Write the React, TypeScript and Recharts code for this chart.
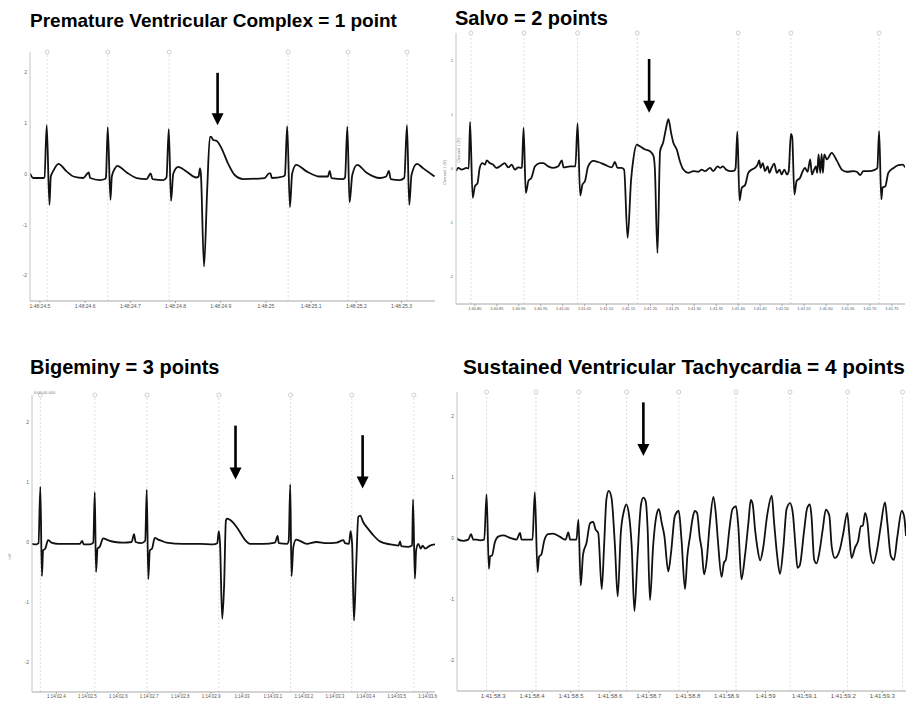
import { LineChart, Line, XAxis, YAxis, ReferenceLine, ReferenceDot } from "recharts";

// voltage ticks shared by all four strips (mV)
const Y_TICKS = [-2, -1, 0, 1, 2];

// --- Premature ventricular complex: ms after 1:48:24.5, mV ---
const pvcTrace: [number, number][] = [
  [-22, 0.01], [-15, -0.08], [7, -0.08], [10, -0.07], [15, 0.96], [21, -0.61], [24, -0.05], [29, 0.05],
  [41, 0.2], [59, 0.05], [74, -0.05], [96, -0.08], [105, 0.01], [108, 0.03], [111, -0.08], [133, -0.12],
  [144, -0.1], [146, -0.07], [150, 0.92], [156, -0.51], [159, -0.05], [166, 0.11], [171, 0.16], [192, 0.03],
  [214, -0.08], [236, -0.1], [245, 0.01], [249, -0.1], [273, -0.12], [280, -0.07], [285, 0.88], [290, -0.53],
  [295, 0.01], [306, 0.14], [324, 0.05], [346, -0.07], [351, -0.05], [354, 0.11], [356, 0.01], [363, -1.82],
  [370, -0.31], [376, 0.73], [379, 0.73], [383, 0.67], [391, 0.65], [402, 0.5], [416, 0.21], [431, -0.02],
  [450, -0.1], [497, -0.08], [507, 0.01], [510, 0.01], [513, -0.08], [538, -0.05], [542, -0.02], [547, 0.94],
  [553, -0.65], [558, 0.01], [567, 0.18], [590, 0.05], [619, -0.05], [637, -0.05], [641, 0.06], [645, -0.08],
  [671, -0.1], [675, -0.07], [680, 0.93], [685, -0.56], [691, -0.02], [702, 0.18], [722, 0.03], [752, -0.08],
  [766, -0.05], [772, 0.06], [776, -0.1], [796, -0.12], [806, -0.08], [812, 0.96], [817, -0.61], [822, -0.02],
  [834, 0.2], [848, 0.11], [873, -0.05],
];
const pvcBeats = [16, 150, 286, 549, 682, 812];
const pvcArrows = [{ t: 393, from: 1.99, to: 0.96 }];
const pvcTicks = [0, 100, 200, 300, 400, 500, 600, 700, 800];

// --- Salvo: ms after 1:40.80, mV ---
const salvoTrace: [number, number][] = [
  [-43, -0.05], [-38, 0.01], [-30, -0.02], [-19, 0.01], [-14, 0], [-11, 0.86], [-5, -0.54], [0, -0.33],
  [6, -0.27], [11, 0.01], [17, 0.1], [23, 0.07], [27, 0.15], [34, 0.1], [42, 0.07], [49, 0.01],
  [57, 0.04], [68, 0.1], [76, 0.02], [84, 0.07], [91, -0.02], [99, 0.02], [105, 0.01], [107, 0.02],
  [111, 0.75], [116, -0.45], [122, -0.23], [129, -0.17], [137, 0.04], [148, 0.1], [156, 0.1], [167, 0.04],
  [179, 0.01], [190, 0.04], [198, 0.15], [202, 0.02], [217, 0.04], [229, 0.04], [234, 0.83], [240, -0.5],
  [245, -0.3], [251, -0.23], [258, 0.04], [270, 0.14], [281, 0.12], [296, 0.07], [312, 0.02], [319, 0.12],
  [325, 0.01], [334, 0.01], [340, -0.02], [348, -1.28], [356, -0.2], [361, 0.17], [369, 0.44], [376, 0.41],
  [388, 0.35], [399, 0.32], [407, 0.23], [410, 0.01], [416, -1.56], [422, 0.32], [429, 0.48], [435, 0.72],
  [441, 0.91], [447, 0.66], [452, 0.48], [460, 0.35], [467, 0.14], [475, -0.02], [486, -0.08], [498, -0.05],
  [509, -0.06], [517, -0.02], [524, -0.05], [536, 0.01], [543, -0.05], [553, 0.04], [559, 0.01], [565, 0.04],
  [572, -0.02], [581, -0.05], [591, -0.04], [594, 0.01], [598, 0.68], [603, -0.59], [608, -0.36], [616, -0.3],
  [623, -0.08], [631, -0.02], [638, 0.01], [644, 0.07], [648, 0.15], [651, 0.01], [656, 0.1], [661, -0.05],
  [667, 0.04], [671, -0.08], [676, 0.01], [682, 0.09], [688, -0.08], [694, -0.02], [699, -0.11], [705, -0.02],
  [711, -0.11], [715, -0.05], [720, 0.64], [723, 0.58], [728, -0.48], [733, -0.23], [741, -0.17], [747, -0.05],
  [752, 0.01], [758, -0.06], [764, 0.17], [768, -0.11], [773, -0.02], [777, 0.04], [780, -0.08], [783, 0.26],
  [787, -0.08], [790, 0.27], [793, -0.08], [796, 0.26], [802, 0.17], [813, 0.29], [825, 0.14], [836, -0.02],
  [847, -0.06], [863, -0.05], [870, -0.06], [878, -0.12], [885, -0.05], [897, -0.05], [912, -0.02], [917, 0.01],
  [921, 0.69], [926, -0.57], [929, -0.35], [935, -0.33], [942, -0.08], [954, 0.01], [965, 0.06], [975, 0.07],
  [980, 0.02],
];
const salvoBeats = [-9, 112, 234, 370, 600, 720, 921];
const salvoArrows = [{ t: 397, from: 2.02, to: 1.03 }];
const salvoTicks = [0, 50, 100, 150, 200, 250, 300, 350, 400, 450, 500, 550, 600, 650, 700, 750, 800, 850, 900, 950];

// --- Bigeminy: ms after 1:14:02.4, mV ---
const bigeminyTrace: [number, number][] = [
  [-79, -0.03], [-65, -0.04], [-58, -0.02], [-52, 0.92], [-47, -0.57], [-43, -0.14], [-36, -0.11], [-27, 0.03],
  [-16, -0.01], [5, -0.03], [32, -0.03], [76, -0.03], [83, 0.02], [88, -0.04], [108, -0.04], [119, -0.01],
  [124, 0.83], [128, -0.5], [133, -0.11], [140, -0.08], [151, 0.06], [167, 0.03], [189, 0], [216, -0.01],
  [243, 0], [251, 0.13], [256, 0], [275, -0.02], [287, 0.02], [292, 0.87], [297, -0.62], [302, -0.14],
  [309, -0.11], [318, 0.07], [329, 0.04], [340, 0.02], [356, -0.01], [410, -0.03], [464, -0.03], [507, -0.04],
  [520, -0.02], [525, 0.18], [529, -0.03], [536, -1.28], [542, -0.75], [548, 0.36], [552, 0.39], [561, 0.37],
  [572, 0.32], [588, 0.21], [609, 0.04], [626, -0.03], [669, -0.03], [707, -0.01], [715, 0.1], [719, -0.02],
  [746, -0.03], [751, 0.02], [756, 0.96], [760, -0.57], [766, -0.08], [775, 0.04], [787, 0.02], [809, -0.03],
  [841, 0], [874, -0.02], [906, -0.01], [928, 0.03], [933, -0.02], [946, -0.03], [951, 0.18], [956, -0.03],
  [962, -1.31], [969, -0.42], [976, 0.42], [982, 0.44], [992, 0.33], [1009, 0.21], [1025, 0.11], [1046, 0.01],
  [1079, -0.04], [1106, -0.06], [1111, 0.01], [1115, -0.07], [1138, -0.08], [1150, -0.06], [1153, 0.71], [1159, -0.61],
  [1163, -0.14], [1170, -0.03], [1178, -0.11], [1184, -0.06], [1192, -0.11], [1208, -0.06], [1224, -0.04],
];
const bigeminyBeats = [-52, 124, 293, 525, 757, 955, 1156];
const bigeminyArrows = [
  { t: 579, from: 1.94, to: 1.04 },
  { t: 990, from: 1.78, to: 0.89 },
];
const bigeminyTicks = [0, 100, 200, 300, 400, 500, 600, 700, 800, 900, 1000, 1100, 1200];

// --- Sustained ventricular tachycardia: ms after 1:41:58.3, mV ---
const vtTrace: [number, number][] = [
  [-93, 0.01], [-90, -0.02], [-77, -0.04], [-64, -0.02], [-57, 0.07], [-51, -0.02], [-43, -0.02], [-34, -0.03],
  [-23, -0.02], [-17, 0.72], [-11, -0.5], [-8, -0.29], [-3, -0.28], [4, -0.07], [13, 0.03], [26, 0.05],
  [43, 0.01], [60, -0.02], [69, 0.09], [73, -0.02], [86, -0.02], [101, -0.02], [107, 0.76], [114, -0.55],
  [118, -0.3], [124, -0.26], [131, -0.04], [141, 0.07], [154, 0.08], [171, 0.03], [186, -0.02], [193, 0.1],
  [198, -0.02], [214, -0.02], [219, 0.31], [225, -0.77], [231, -0.26], [240, -0.07], [249, 0.25], [257, 0.27],
  [263, 0.15], [270, 0.09], [279, -0.83], [285, -0.13], [291, 0.64], [297, 0.78], [304, 0.67], [313, -0.13],
  [320, -0.95], [328, 0.09], [336, 0.45], [342, 0.56], [349, 0.39], [356, -0.13], [363, -1.19], [371, -0.29],
  [380, 0.56], [386, 0.67], [392, 0.61], [397, 0.15], [403, -1.01], [411, -0.13], [420, 0.39], [426, 0.48],
  [433, 0.26], [440, 0.04], [450, -0.54], [457, -0.24], [467, 0.37], [477, 0.45], [484, -0.02], [493, -0.83],
  [499, -0.29], [506, 0.04], [512, 0.31], [518, 0.45], [524, 0.42], [531, 0.01], [536, -0.18], [542, -0.59],
  [548, -0.4], [557, 0.26], [566, 0.68], [572, 0.42], [578, -0.07], [587, -0.63], [593, -0.4], [598, -0.35],
  [607, 0.15], [615, 0.48], [624, 0.53], [630, 0.2], [638, -0.67], [647, -0.29], [656, 0.26], [662, 0.63],
  [667, 0.56], [673, 0.15], [679, -0.15], [686, -0.36], [694, -0.15], [704, 0.37], [716, 0.7], [722, 0.26],
  [730, -0.29], [737, -0.58], [746, -0.13], [754, 0.48], [763, 0.58], [770, 0.42], [777, -0.13], [782, -0.48],
  [788, -0.44], [799, 0.12], [807, 0.5], [814, 0.56], [818, 0.37], [825, -0.35], [831, -0.41], [838, -0.24],
  [847, 0.15], [855, 0.47], [864, 0.37], [870, -0.13], [878, -0.32], [891, -0.18], [900, 0.09], [910, 0.42],
  [915, 0.09], [921, -0.32], [930, -0.15], [938, -0.04], [945, 0.2], [950, 0.21], [956, 0.42], [962, 0.26],
  [968, -0.18], [977, -0.41], [986, -0.21], [996, 0.2], [1007, 0.59], [1013, 0.26], [1022, -0.29], [1030, -0.35],
  [1039, 0.04], [1050, 0.45], [1056, 0.37], [1061, 0.04],
];
const vtBeats = [-17, 110, 220, 343, 477, 624, 763, 911, 1052];
const vtArrows = [{ t: 386, from: 2.23, to: 1.35 }];
const vtTicks = [0, 100, 200, 300, 400, 500, 600, 700, 800, 900, 1000];

const secs = (base: number, t: number, digits = 1) => +(base + t / 1000).toFixed(digits);

// downward annotation arrow drawn on a vertical reference segment
const Arrow = (p: any) => {
  const x = p.x1;
  const top = Math.min(p.y1, p.y2);
  const tip = Math.max(p.y1, p.y2);
  const head = 12;
  return (
    <g>
      <line x1={x} y1={top} x2={x} y2={tip - head + 2} stroke="#000" strokeWidth={2.6} />
      <path d={`M${x - 6},${tip - head} L${x + 6},${tip - head} L${x},${tip} Z`} fill="#000" />
    </g>
  );
};

type StripProps = {
  trace: [number, number][];
  beats: number[];
  arrows: { t: number; from: number; to: number }[];
  ticks: number[];
  xDomain: [number, number];
  yDomain: [number, number];
  width: number;
  height: number;
  margin: { top: number; right: number; bottom: number; left: number };
  yAxisWidth: number;
  xAxisHeight: number;
  xFont: number;
  yFont: number;
  formatTick: (t: number) => string;
};

function Strip(props: StripProps) {
  const { trace, beats, arrows, ticks, xDomain, yDomain } = props;
  const data = trace.map(([t, v]) => ({ t, v }));
  return (
    <LineChart width={props.width} height={props.height} data={data} margin={props.margin}>
      <XAxis
        dataKey="t"
        type="number"
        domain={xDomain}
        ticks={ticks}
        interval={0}
        allowDataOverflow
        tickFormatter={props.formatTick}
        height={props.xAxisHeight}
        stroke="#a8a8a8"
        tickSize={2}
        tickMargin={1}
        tick={{ fontSize: props.xFont, fill: "#555" }}
      />
      <YAxis
        type="number"
        domain={yDomain}
        ticks={Y_TICKS}
        interval={0}
        allowDataOverflow
        width={props.yAxisWidth}
        stroke="#c4c4c4"
        tickSize={0}
        tickMargin={3}
        tick={{ fontSize: props.yFont, fill: "#666" }}
      />
      {beats.map((t) => (
        <ReferenceLine key={`g${t}`} x={t} stroke="#dedede" strokeDasharray="2 2" />
      ))}
      {beats.map((t) => (
        <ReferenceDot key={`d${t}`} x={t} y={yDomain[1]} r={2} fill="#fff" stroke="#cfcfcf" ifOverflow="visible" />
      ))}
      <Line dataKey="v" type="monotone" dot={false} stroke="#111" strokeWidth={1.8} isAnimationActive={false} />
      {arrows.map((a) => (
        <ReferenceLine
          key={`a${a.t}`}
          segment={[{ x: a.t, y: a.from }, { x: a.t, y: a.to }]}
          shape={Arrow}
          ifOverflow="visible"
        />
      ))}
    </LineChart>
  );
}

const titleStyle: React.CSSProperties = {
  position: "absolute",
  fontFamily: "'Liberation Sans', Arial, sans-serif",
  fontWeight: 700,
  fontSize: 20,
  lineHeight: "20px",
  whiteSpace: "nowrap",
  color: "#000",
};

const tinyStyle: React.CSSProperties = {
  position: "absolute",
  fontSize: 4,
  color: "#777",
  whiteSpace: "nowrap",
};

export default function App() {
  return (
    <div
      style={{
        position: "absolute",
        left: 0,
        top: 0,
        width: 910,
        height: 711,
        background: "#fff",
        overflow: "hidden",
        fontFamily: "'Liberation Sans', Arial, sans-serif",
      }}
    >
      <div style={{ ...titleStyle, left: 30, top: 11, fontSize: 19 }}>Premature Ventricular Complex = 1 point</div>
      <div style={{ ...titleStyle, left: 455, top: 8 }}>Salvo = 2 points</div>
      <div style={{ ...titleStyle, left: 30, top: 357 }}>Bigeminy = 3 points</div>
      <div style={{ ...titleStyle, left: 463, top: 357, fontSize: 20.8 }}>
        Sustained Ventricular Tachycardia = 4 points
      </div>

      <div style={{ position: "absolute", left: 0, top: 40 }}>
        <Strip
          trace={pvcTrace}
          beats={pvcBeats}
          arrows={pvcArrows}
          ticks={pvcTicks}
          xDomain={[-22, 874]}
          yDomain={[-2.5, 2.4]}
          width={445}
          height={280}
          margin={{ top: 12, right: 10, bottom: 5, left: 8 }}
          yAxisWidth={22}
          xAxisHeight={14}
          xFont={5}
          yFont={5}
          formatTick={(t) => `1:48:${secs(24.5, t)}`}
        />
      </div>
      <div style={{ ...tinyStyle, left: 432, top: 170, transform: "rotate(-90deg)" }}>Channel 1 (V)</div>

      <div style={{ position: "absolute", left: 450, top: 25 }}>
        <Strip
          trace={salvoTrace}
          beats={salvoBeats}
          arrows={salvoArrows}
          ticks={salvoTicks}
          xDomain={[-43, 980]}
          yDomain={[-2.5, 2.5]}
          width={460}
          height={300}
          margin={{ top: 8, right: 5, bottom: 7, left: 0 }}
          yAxisWidth={6}
          xAxisHeight={14}
          xFont={4}
          yFont={4}
          formatTick={(t) => `1:${(40.8 + t / 1000).toFixed(2)}`}
        />
      </div>
      <div style={{ ...tinyStyle, left: 446, top: 148, transform: "rotate(-90deg)" }}>Channel 1 (V)</div>

      <div style={{ position: "absolute", left: 0, top: 380 }}>
        <Strip
          trace={bigeminyTrace}
          beats={bigeminyBeats}
          arrows={bigeminyArrows}
          ticks={bigeminyTicks}
          xDomain={[-79, 1224]}
          yDomain={[-2.5, 2.45]}
          width={445}
          height={325}
          margin={{ top: 15, right: 10, bottom: 0, left: 10 }}
          yAxisWidth={22}
          xAxisHeight={13}
          xFont={4.5}
          yFont={5}
          formatTick={(t) => `1:14:0${secs(2.4, t)}`}
        />
      </div>
      <div style={{ ...tinyStyle, left: 34, top: 390 }}>0:00:00.000</div>
      <div style={{ ...tinyStyle, left: 6, top: 554, transform: "rotate(-90deg)" }}>mV</div>

      <div style={{ position: "absolute", left: 450, top: 380 }}>
        <Strip
          trace={vtTrace}
          beats={vtBeats}
          arrows={vtArrows}
          ticks={vtTicks}
          xDomain={[-93, 1061]}
          yDomain={[-2.5, 2.4]}
          width={460}
          height={325}
          margin={{ top: 12, right: 4, bottom: 0, left: 0 }}
          yAxisWidth={7}
          xAxisHeight={14}
          xFont={6}
          yFont={5}
          formatTick={(t) => `1:41:${secs(58.3, t)}`}
        />
      </div>
    </div>
  );
}
